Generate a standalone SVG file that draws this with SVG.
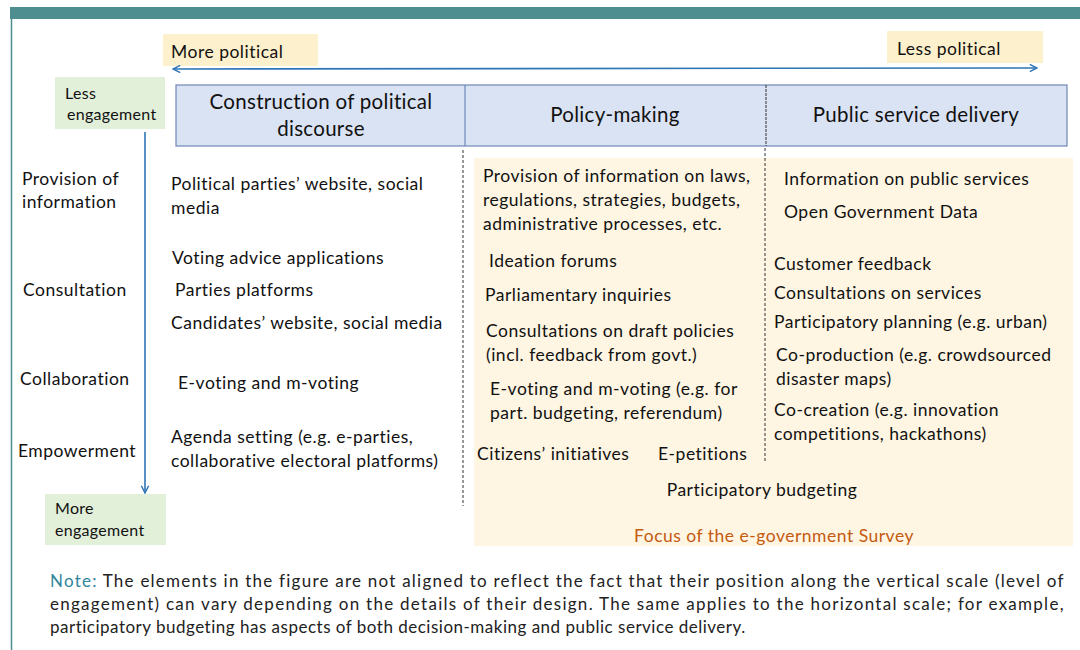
<svg xmlns="http://www.w3.org/2000/svg" width="1080" height="650" viewBox="0 0 1080 650">
<defs>
<marker id="ah" viewBox="0 0 10 10" refX="9" refY="5" markerWidth="9" markerHeight="9" markerUnits="userSpaceOnUse" orient="auto-start-reverse">
<path d="M1,1 L9,5 L1,9" fill="none" stroke="#2e75b6" stroke-width="1.6"/>
</marker>
<style>
text{font-family:Lato,"Open Sans","Liberation Sans",sans-serif;fill:#111;}
.t{font-size:17.5px;letter-spacing:0.5px;}
.h{font-size:20.5px;letter-spacing:0.3px;text-anchor:middle;}
.lab{font-size:17.5px;letter-spacing:0.5px;}
.small{font-size:16px;letter-spacing:0.3px;}
.note{font-size:17px;letter-spacing:0.5px;fill:#222;}
.dash{stroke:#333;stroke-width:1;stroke-dasharray:3,2;fill:none;}
</style>
</defs>
<rect x="0" y="0" width="1080" height="650" fill="#fff"/>
<rect x="10" y="7" width="1070" height="12" fill="#4e8d90"/>
<line x1="11.5" y1="19" x2="11.5" y2="650" stroke="#4e8d90" stroke-width="1.5"/>

<g id="focus-area">
<rect x="474" y="158" width="599" height="388" fill="#fef5e2"/>
<text x="774" y="542" style="font-size:17.5px;letter-spacing:0.5px;fill:#c55a11;" text-anchor="middle">Focus of the e-government Survey</text>
</g>

<g id="header">
<rect x="176" y="85" width="891" height="61" fill="#dae3f3" stroke="#6f87b8" stroke-width="1.2"/>
<line x1="465" y1="85" x2="465" y2="146" stroke="#6f87b8" stroke-width="1.2"/>
<line x1="766" y1="85" x2="766" y2="146" stroke="#333" stroke-width="1" stroke-dasharray="3,1"/>
<text class="h" x="321" y="109">Construction of political</text>
<text class="h" x="321" y="136">discourse</text>
<text class="h" x="615" y="122">Policy-making</text>
<text class="h" x="916" y="122">Public service delivery</text>
</g>

<g id="more-political">
<rect x="163" y="34" width="155" height="32" fill="#fdf0cc"/>
<text class="t" x="171" y="58">More political</text>
</g>
<g id="less-political">
<rect x="887" y="31" width="156" height="32" fill="#fdf0cc"/>
<text class="t" x="897" y="55">Less political</text>
</g>
<g id="less-engagement">
<rect x="55" y="77" width="110" height="52" fill="#e2efd9"/>
<text class="small" x="65" y="99">Less</text>
<text class="small" x="67" y="120">engagement</text>
</g>
<g id="more-engagement">
<rect x="45" y="494" width="121" height="51" fill="#e2efd9"/>
<text class="small" x="55" y="514">More</text>
<text class="small" x="55" y="536">engagement</text>
</g>

<g id="connectors">
<line x1="173" y1="69" x2="1037" y2="68" stroke="#2e75b6" stroke-width="1.6" marker-start="url(#ah)" marker-end="url(#ah)"/>
<line x1="145" y1="132" x2="145" y2="493" stroke="#2e75b6" stroke-width="1.6" marker-end="url(#ah)"/>
<line class="dash" x1="463" y1="150" x2="463" y2="506"/>
<line class="dash" x1="765" y1="148" x2="765" y2="463"/>
</g>

<g id="levels">
<text class="lab" x="22" y="185">Provision of</text>
<text class="lab" x="22" y="208">information</text>
<text class="lab" x="23" y="296">Consultation</text>
<text class="lab" x="20" y="385">Collaboration</text>
<text class="lab" x="18" y="457">Empowerment</text>
</g>

<g id="col-political">
<text class="t" x="171" y="190">Political parties’ website, social</text>
<text class="t" x="171" y="214">media</text>
<text class="t" x="172" y="264">Voting advice applications</text>
<text class="t" x="175" y="296">Parties platforms</text>
<text class="t" x="171" y="329">Candidates’ website, social media</text>
<text class="t" x="178" y="389">E-voting and m-voting</text>
<text class="t" x="171" y="443">Agenda setting (e.g. e-parties,</text>
<text class="t" x="171" y="467">collaborative electoral platforms)</text>
</g>

<g id="col-policy">
<text class="t" x="483" y="182">Provision of information on laws,</text>
<text class="t" x="483" y="206">regulations, strategies, budgets,</text>
<text class="t" x="483" y="230">administrative processes, etc.</text>
<text class="t" x="489" y="267">Ideation forums</text>
<text class="t" x="485" y="301">Parliamentary inquiries</text>
<text class="t" x="486" y="337">Consultations on draft policies</text>
<text class="t" x="486" y="361">(incl. feedback from govt.)</text>
<text class="t" x="490" y="395">E-voting and m-voting (e.g. for</text>
<text class="t" x="490" y="419">part. budgeting, referendum)</text>
<text class="t" x="477" y="460">Citizens’ initiatives</text>
<text class="t" x="658" y="460">E-petitions</text>
<text class="t" x="762" y="496" text-anchor="middle">Participatory budgeting</text>
</g>

<g id="col-service">
<text class="t" x="784" y="185">Information on public services</text>
<text class="t" x="784" y="218">Open Government Data</text>
<text class="t" x="774" y="270">Customer feedback</text>
<text class="t" x="774" y="299">Consultations on services</text>
<text class="t" x="774" y="328">Participatory planning (e.g. urban)</text>
<text class="t" x="776" y="361">Co-production (e.g. crowdsourced</text>
<text class="t" x="776" y="385">disaster maps)</text>
<text class="t" x="774" y="416">Co-creation (e.g. innovation</text>
<text class="t" x="774" y="440">competitions, hackathons)</text>
</g>

<g id="note">
<text class="note" x="50" y="587" textLength="1014" lengthAdjust="spacing"><tspan style="fill:#31849b">Note:</tspan> The elements in the figure are not aligned to reflect the fact that their position along the vertical scale (level of</text>
<text class="note" x="50" y="610" textLength="1014" lengthAdjust="spacing">engagement) can vary depending on the details of their design. The same applies to the horizontal scale; for example,</text>
<text class="note" x="50" y="633">participatory budgeting has aspects of both decision-making and public service delivery.</text>
</g>
</svg>
